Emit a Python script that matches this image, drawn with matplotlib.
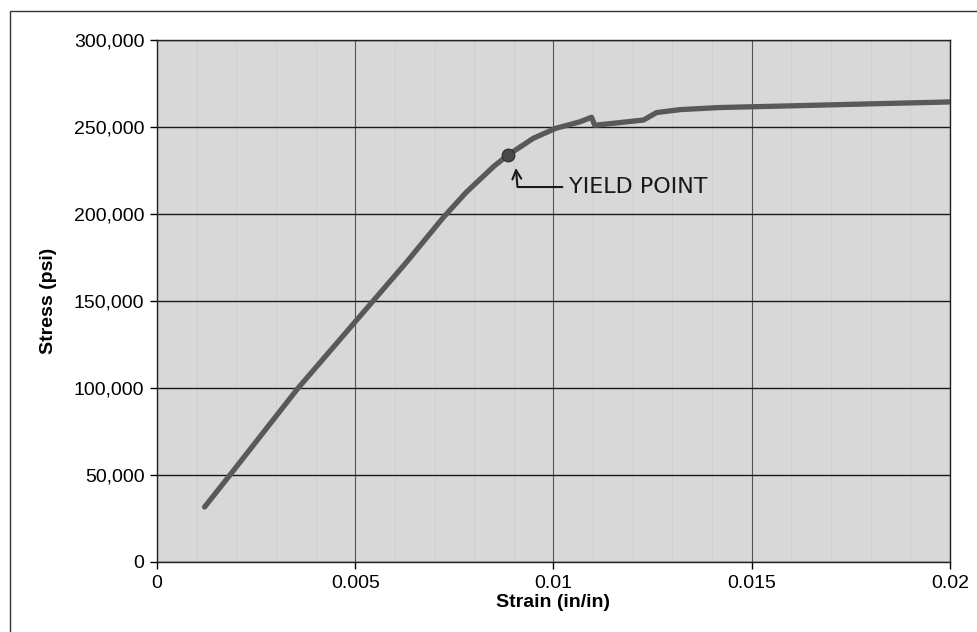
import numpy as np
import matplotlib.pyplot as plt
from matplotlib.patches import Rectangle
from matplotlib.ticker import FuncFormatter, MultipleLocator

# Tensile test readings
strain = [0.0012, 0.00184, 0.00356, 0.00545, 0.0063, 0.00722, 0.0078, 0.00815,
          0.0085, 0.00886, 0.00949, 0.01005, 0.01067, 0.01096, 0.01104, 0.0117,
          0.01227, 0.0126, 0.0132, 0.0142, 0.0157, 0.0180, 0.0200]
stress = [31600, 50000, 100000, 150000, 172500, 198000, 212500, 220000,
          227500, 234000, 243500, 249200, 253000, 255600, 251000, 252600,
          254000, 258300, 260000, 261200, 262000, 263300, 264400]

yield_strain = 0.00886
yield_stress = 234000

x_ticks = [0, 0.005, 0.01, 0.015, 0.02]
x_tick_labels = ['0', '0.005', '0.01', '0.015', '0.02']
y_ticks = [0, 50000, 100000, 150000, 200000, 250000, 300000]

plt.rcParams['font.family'] = ['Liberation Sans', 'DejaVu Sans']

fig = plt.figure(figsize=(9.78, 6.32), dpi=100)
fig.patch.set_facecolor('white')

# Frame around the whole chart
fig.patches.append(Rectangle((10/978, -0.1), 1.2, 1 - 11/632 + 0.1,
                             transform=fig.transFigure, fill=False,
                             edgecolor='#333333', lw=1.0))

ax = fig.add_axes([157/978, 1 - 562/632, (950 - 157)/978, (562 - 40)/632])
ax.set_facecolor('#d8d8d8')

ax.plot(strain, stress, color='#595959', lw=3.8, solid_capstyle='round',
        solid_joinstyle='round', zorder=3)
ax.plot(yield_strain, yield_stress, 'o', ms=9, color='#4a4a4a',
        markeredgecolor='#333333', zorder=4)

ax.annotate('YIELD POINT', xy=(0.00905, 226500), xytext=(0.0104, 215500),
            fontsize=16, family='DejaVu Sans', color='#1a1a1a', va='center', ha='left',
            arrowprops=dict(arrowstyle='->', color='#1a1a1a', lw=1.5,
                            connectionstyle='angle,angleA=0,angleB=95',
                            shrinkA=3, shrinkB=0))

ax.set_xlim(0, 0.02)
ax.set_ylim(0, 300000)
ax.set_xticks(x_ticks)
ax.set_xticklabels(x_tick_labels)
ax.set_yticks(y_ticks)
ax.yaxis.set_major_formatter(FuncFormatter(lambda v, p: f'{int(v):,}'))
ax.xaxis.set_minor_locator(MultipleLocator(0.001))

ax.grid(axis='y', which='major', color='#1a1a1a', lw=1.0)
ax.grid(axis='x', which='major', color='#555555', lw=0.8)
ax.grid(axis='x', which='minor', color='#cdcdcd', lw=0.6)
ax.set_axisbelow(True)

ax.tick_params(axis='both', which='major', labelsize=14, length=5, width=1.0,
               direction='out', pad=4)
ax.tick_params(axis='x', which='minor', length=0)
for s in ax.spines.values():
    s.set_color('#222222')
    s.set_linewidth(1.0)

ax.set_xlabel('Strain (in/in)', fontsize=14, fontweight='bold', labelpad=2)
ax.set_ylabel('Stress (psi)', fontsize=14, fontweight='bold', labelpad=12)

fig.savefig('out.png', dpi=100)
